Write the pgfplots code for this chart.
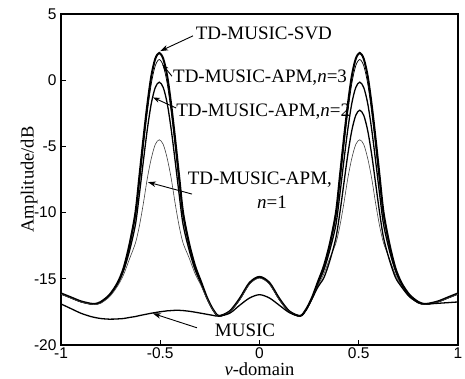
\documentclass[border=0pt]{standalone}
\usepackage{fontspec}
\setmainfont{Liberation Serif}
\setsansfont{Liberation Sans}
\usepackage{pgfplots}
\usepackage{pgfplotstable}
\pgfplotsset{compat=1.18}
\usetikzlibrary{arrows.meta}

\pgfplotstableread{
v      svd     n3      n2      n1      music
-1     -16.1   -16.12  -16.14  -16.16  -16.9
-0.95  -16.4   -16.42  -16.44  -16.46  -17.25
-0.9   -16.7   -16.72  -16.73  -16.75  -17.6
-0.85  -16.88  -16.89  -16.9   -16.92  -17.85
-0.83  -16.9   -16.91  -16.92  -16.95  -17.92
-0.8   -16.75  -16.77  -16.8   -16.85  -18.0
-0.755 -16.2   -16.22  -16.25  -16.35  -18.05
-0.715 -15.3   -15.35  -15.4   -15.55  -18.03
-0.685 -14.2   -14.3   -14.4   -14.7   -18.0
-0.655 -12.4   -12.6   -12.9   -13.5   -17.92
-0.625 -10.0   -10.3   -10.9   -12.3   -17.85
-0.605 -7.24   -7.8    -8.6    -11.0   -17.78
-0.585 -4.44   -5.0    -6.1    -9.3    -17.72
-0.565 -1.84   -2.4    -3.7    -7.4    -17.66
-0.545 0.31    -0.25   -1.75   -5.9    -17.6
-0.525 1.62    1.1     -0.55   -4.85   -17.55
-0.505 2.06    1.56    -0.15   -4.5    -17.5
-0.485 1.62    1.1     -0.55   -4.85   -17.46
-0.465 0.31    -0.25   -1.75   -5.9    -17.42
-0.445 -1.84   -2.4    -3.7    -7.4    -17.4
-0.425 -4.44   -5.0    -6.1    -9.3    -17.38
-0.405 -7.24   -7.8    -8.6    -11.0   -17.38
-0.385 -10.0   -10.3   -10.9   -12.3   -17.4
-0.355 -12.3   -12.5   -12.8   -13.4   -17.45
-0.325 -14.0   -14.1   -14.3   -14.6   -17.52
-0.295 -15.2   -15.25  -15.35  -15.5   -17.6
-0.265 -16.4   -16.42  -16.45  -16.5   -17.68
-0.235 -17.3   -17.3   -17.32  -17.35  -17.76
-0.205 -17.8   -17.8   -17.8   -17.82  -17.82
-0.15  -17.45  -17.45  -17.47  -17.5   -17.6
-0.1   -16.5   -16.52  -16.55  -16.6   -17.0
-0.05  -15.3   -15.32  -15.35  -15.4   -16.45
0      -14.85  -14.87  -14.9   -14.95  -16.2
0.05   -15.3   -15.32  -15.35  -15.4   -16.45
0.1    -16.5   -16.52  -16.55  -16.6   -17.0
0.15   -17.45  -17.45  -17.47  -17.5   -17.55
0.205  -17.8   -17.8   -17.8   -17.82  -17.82
0.235  -17.3   -17.3   -17.32  -17.35  -17.35
0.265  -16.4   -16.42  -16.45  -16.5   -16.5
0.295  -15.2   -15.25  -15.35  -15.5   -15.6
0.325  -14.0   -14.1   -14.3   -14.6   -14.9
0.355  -12.3   -12.5   -12.8   -13.4   -13.6
0.385  -10.0   -10.3   -10.9   -12.3   -11.9
0.405  -7.24   -7.8    -8.6    -11.0   -10.0
0.425  -4.44   -5.0    -6.1    -9.3    -7.8
0.445  -1.84   -2.4    -3.7    -7.4    -5.6
0.465  0.31    -0.25   -1.75   -5.9    -3.8
0.485  1.62    1.1     -0.55   -4.85   -2.65
0.505  2.06    1.56    -0.15   -4.5    -2.27
0.525  1.62    1.1     -0.55   -4.85   -2.65
0.545  0.31    -0.25   -1.75   -5.9    -3.8
0.565  -1.84   -2.4    -3.7    -7.4    -5.6
0.585  -4.44   -5.0    -6.1    -9.3    -7.8
0.605  -7.24   -7.8    -8.6    -11.0   -10.0
0.625  -10.0   -10.3   -10.9   -12.3   -11.9
0.655  -12.4   -12.6   -12.9   -13.5   -13.6
0.685  -14.2   -14.3   -14.4   -14.7   -14.9
0.715  -15.3   -15.35  -15.4   -15.55  -15.6
0.755  -16.2   -16.22  -16.25  -16.35  -16.35
0.8    -16.75  -16.77  -16.8   -16.85  -16.8
0.83   -16.9   -16.91  -16.92  -16.95  -16.9
0.85   -16.88  -16.89  -16.9   -16.92  -16.9
0.9    -16.7   -16.72  -16.73  -16.75  -16.85
0.95   -16.4   -16.42  -16.44  -16.46  -16.8
1      -16.1   -16.12  -16.14  -16.16  -16.75
}\spec

\newcommand{\annot}{\fontsize{19}{21}\selectfont}

\begin{document}
\begin{tikzpicture}
\path[use as bounding box] (0,0) rectangle (465pt,379pt);
\begin{axis}[
  at={(61pt,34pt)}, anchor=south west,
  scale only axis, width=397pt, height=331pt,
  xmin=-1, xmax=1, ymin=-20, ymax=5,
  xtick={-1,-0.5,0,0.5,1}, ytick={-20,-15,-10,-5,0,5},
  tick pos=left, tick align=inside,
  major tick length=5pt,
  axis line style={line width=1.1pt},
  every tick/.style={line width=0.9pt, black},
  /pgf/number format/assume math mode=true,
  ticklabel style={font=\sffamily\fontsize{15.5}{16}\selectfont},
  xticklabel style={yshift=1pt},
  yticklabel style={xshift=-1pt},
  xlabel={\textit{v}-domain},
  ylabel={Amplitude/dB},
  label style={font=\fontsize{18.5}{20}\selectfont, inner sep=0.5pt},
  xlabel style={at={(axis description cs:0.5,-0.074)}, anchor=center},
  ylabel style={at={(axis description cs:-0.080,0.5)}, anchor=center},
  clip mode=individual,
]
\addplot[black, line width=2pt, smooth] table[x=v, y=svd] {\spec};
\addplot[black, line width=0.7pt, smooth] table[x=v, y=n3] {\spec};
\addplot[black, line width=1.3pt, smooth] table[x=v, y=n2] {\spec};
\addplot[black!75, line width=0.6pt, smooth] table[x=v, y=n1] {\spec};
\addplot[black, line width=1.3pt, smooth] table[x=v, y=music] {\spec};

\node[anchor=west, font=\annot, inner sep=0pt] at (axis cs:-0.322,3.57) {TD-MUSIC-SVD};
\draw[line width=0.9pt, -{Stealth[length=8pt,width=5.5pt]}] (axis cs:-0.335,3.35) -- (axis cs:-0.50,2.2);

\node[anchor=west, font=\annot, inner sep=0pt] at (axis cs:-0.436,0.17) {TD-MUSIC-APM,\textit{n}=3};
\draw[line width=0.9pt, -{Stealth[length=7pt,width=5pt]}] (axis cs:-0.441,0.3) -- (axis cs:-0.49,1.2);

\node[anchor=west, font=\annot, inner sep=0pt] at (axis cs:-0.42,-2.4) {TD-MUSIC-APM,\textit{n}=2};
\draw[line width=0.9pt, -{Stealth[length=7pt,width=5pt]}] (axis cs:-0.42,-2.1) -- (axis cs:-0.537,-1.3);

\node[anchor=west, font=\annot, inner sep=0pt] at (axis cs:-0.362,-7.54) {TD-MUSIC-APM,};
\node[anchor=center, font=\annot, inner sep=0pt] at (axis cs:0.063,-9.2) {\textit{n}=1};
\draw[line width=0.9pt, -{Stealth[length=8pt,width=5.5pt]}] (axis cs:-0.34,-8.6) -- (axis cs:-0.562,-7.7);

\node[anchor=center, font=\annot, inner sep=0pt] at (axis cs:-0.073,-18.87) {MUSIC};
\draw[line width=0.9pt, -{Stealth[length=8pt,width=5.5pt]}] (axis cs:-0.315,-18.7) -- (axis cs:-0.537,-17.62);
\end{axis}
\end{tikzpicture}
\end{document}
